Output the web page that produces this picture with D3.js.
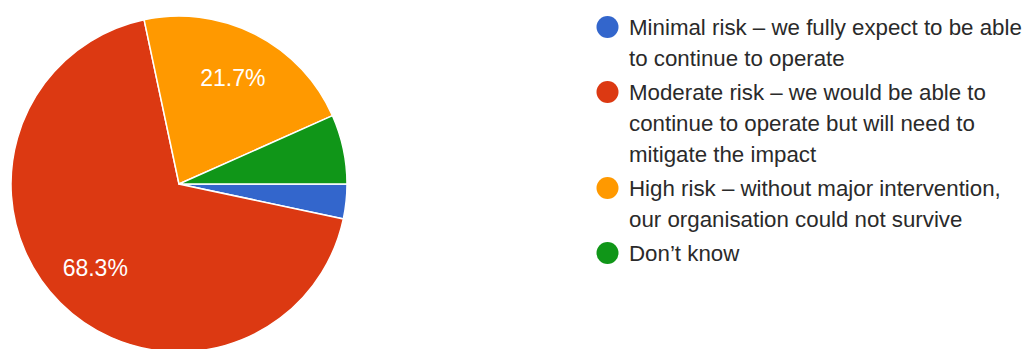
<!DOCTYPE html>
<html><head><meta charset="utf-8">
<script src="https://cdn.jsdelivr.net/npm/d3@7"></script>
<style>html,body{margin:0;padding:0;background:#fff;}svg{display:block;}</style>
</head><body>
<svg id="chart" width="1027" height="349"></svg>
<script>
const categories = [
  "Minimal risk – we fully expect to be able to continue to operate",
  "Moderate risk – we would be able to continue to operate but will need to mitigate the impact",
  "High risk – without major intervention, our organisation could not survive",
  "Don’t know"
];
const legendLines = [
  ["Minimal risk – we fully expect to be able", "to continue to operate"],
  ["Moderate risk – we would be able to", "continue to operate but will need to", "mitigate the impact"],
  ["High risk – without major intervention,", "our organisation could not survive"],
  ["Don’t know"]
];
const values = [2, 41, 13, 4];
const colors = ["#3366cc", "#dc3912", "#ff9900", "#109618"];

const svg = d3.select("#chart");
const cx = 179, cy = 184, r = 168;
const total = d3.sum(values);
const data = values.map((v, i) => ({v, i}));

const pie = d3.pie().value(d => d.v).sort(null)
  .startAngle(Math.PI / 2).endAngle(Math.PI / 2 + 2 * Math.PI);
const arcs = pie(data);
const arc = d3.arc().innerRadius(0).outerRadius(r);
const labelArc = d3.arc().innerRadius(r * 0.705).outerRadius(r * 0.705);
const fmt = d3.format(".1%");

const g = svg.append("g").attr("transform", `translate(${cx},${cy})`);
g.selectAll("path").data(arcs).join("path")
  .attr("d", arc)
  .attr("fill", d => colors[d.data.i])
  .attr("stroke", "#fff").attr("stroke-width", 1.5);

g.selectAll("text").data(arcs.filter(d => d.data.v / total > 0.1)).join("text")
  .attr("transform", d => `translate(${labelArc.centroid(d)})`)
  .attr("text-anchor", "middle").attr("dominant-baseline", "central")
  .attr("font-family", "Liberation Sans, Arial, sans-serif")
  .attr("font-size", 23).attr("fill", "#fff")
  .text(d => fmt(d.data.v / total));

const lineH = 31, gap = 3;
let y = 27;
const lg = svg.append("g").attr("font-family", "Liberation Sans, Arial, sans-serif")
  .attr("font-size", 22.3).attr("fill", "#2a2a2a");
legendLines.forEach((lines, i) => {
  lg.append("circle").attr("cx", 607.5).attr("cy", y).attr("r", 11).attr("fill", colors[i]);
  lines.forEach((t, j) => {
    lg.append("text").attr("x", 629).attr("y", y + j * lineH)
      .attr("dominant-baseline", "central").text(t);
  });
  y += lines.length * lineH + gap;
});
</script>
</body></html>
